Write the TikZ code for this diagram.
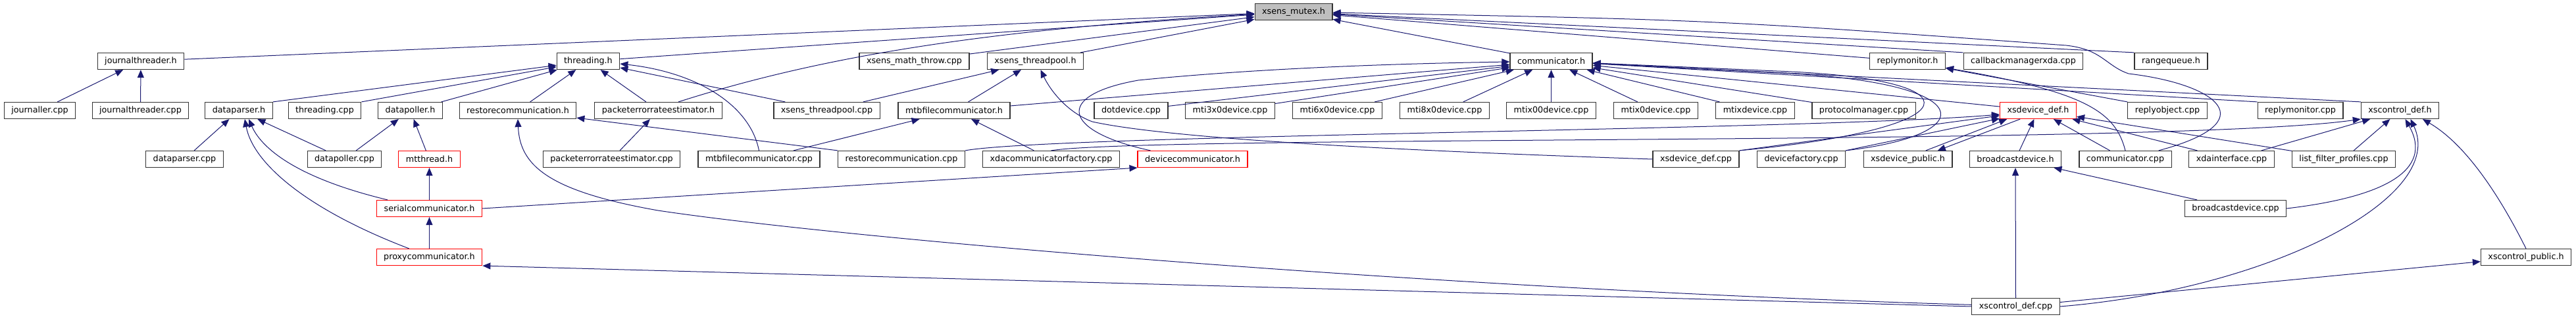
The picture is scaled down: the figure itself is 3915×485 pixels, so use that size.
\documentclass[tikz,border=0pt]{standalone}
\usepackage{fontspec}
\setmainfont{DejaVu Sans}
\usetikzlibrary{arrows.meta}
\definecolor{azulnoite}{RGB}{25,25,112}
\definecolor{cinza75}{RGB}{191,191,191}
\begin{document}
\begin{tikzpicture}[>={Triangle[length=9pt,width=7.5pt]},x=0.75pt,y=-0.75pt,
	caixa/.style={draw=black!80,line width=0.9pt,fill=white,minimum height=18.75pt,
		inner xsep=8.25pt,inner ysep=0pt,font=\fontsize{9.55pt}{11pt}\selectfont},
	trunc/.style={caixa,draw=red},
	dep/.style={->,draw=azulnoite,fill=none,line width=0.75pt}]

	% area do desenho
	\useasboundingbox (0,0) rectangle (3915,485);

	% arquivo central
	\node[caixa,fill=cinza75] (Mutex) at (1966,18) {xsens\_mutex.h};

	% linha 1
	\node[caixa] (JThrH) at (214,93) {journalthreader.h};
	\node[caixa] (ThrH) at (894,93) {threading.h};
	\node[caixa] (MathCpp) at (1389.5,93) {xsens\_math\_throw.cpp};
	\node[caixa] (PoolH) at (1573.5,93) {xsens\_threadpool.h};
	\node[caixa] (CommH) at (2357.5,93) {communicator.h};
	\node[caixa] (RMonH) at (2899,93) {replymonitor.h};
	\node[caixa] (CbCpp) at (3075,93) {callbackmanagerxda.cpp};
	\node[caixa] (RQH) at (3299.5,93) {rangequeue.h};

	% linha 2
	\node[caixa] (JLogCpp) at (60.5,168) {journaller.cpp};
	\node[caixa] (JThrCpp) at (213.5,168) {journalthreader.cpp};
	\node[caixa] (DParH) at (363,168) {dataparser.h};
	\node[caixa] (ThrCpp) at (493.5,168) {threading.cpp};
	\node[caixa] (DPolH) at (623.5,168) {datapoller.h};
	\node[caixa] (RestH) at (787,168) {restorecommunication.h};
	\node[caixa] (PerH) at (1000.5,168) {packeterrorrateestimator.h};
	\node[caixa] (PoolCpp) at (1256.5,168) {xsens\_threadpool.cpp};
	\node[caixa] (MtbH) at (1450,168) {mtbfilecommunicator.h};
	\node[caixa] (DotCpp) at (1719,168) {dotdevice.cpp};
	\node[caixa] (M3Cpp) at (1869.5,168) {mti3x0device.cpp};
	\node[caixa] (M6Cpp) at (2032.5,168) {mti6x0device.cpp};
	\node[caixa] (M8Cpp) at (2195.5,168) {mti8x0device.cpp};
	\node[caixa] (MX00Cpp) at (2357.5,168) {mtix00device.cpp};
	\node[caixa] (MX0Cpp) at (2516.5,168) {mtix0device.cpp};
	\node[caixa] (MXCpp) at (2667.5,168) {mtixdevice.cpp};
	\node[caixa] (ProtCpp) at (2832.5,168) {protocolmanager.cpp};
	\node[trunc] (DevDefH) at (3097.5,168) {xsdevice\_def.h};
	\node[caixa] (RObjCpp) at (3294,168) {replyobject.cpp};
	\node[caixa] (RMonCpp) at (3496,168) {replymonitor.cpp};
	\node[caixa] (CtlDefH) at (3647.5,168) {xscontrol\_def.h};

	% linha 3
	\node[caixa] (DParCpp) at (280.5,242) {dataparser.cpp};
	\node[caixa] (DPolCpp) at (523.5,242) {datapoller.cpp};
	\node[trunc] (MtThrH) at (652.5,242) {mtthread.h};
	\node[caixa] (PerCpp) at (929.5,242) {packeterrorrateestimator.cpp};
	\node[caixa] (MtbCpp) at (1153.5,242) {mtbfilecommunicator.cpp};
	\node[caixa] (RestCpp) at (1370,242) {restorecommunication.cpp};
	\node[caixa] (XdaFacCpp) at (1597.5,242) {xdacommunicatorfactory.cpp};
	\node[trunc] (DevCommH) at (1812.5,242) {devicecommunicator.h};
	\node[caixa] (DevDefCpp) at (2577.5,242) {xsdevice\_def.cpp};
	\node[caixa] (DevFacCpp) at (2737.5,242) {devicefactory.cpp};
	\node[caixa] (DevPubH) at (2899.5,242) {xsdevice\_public.h};
	\node[caixa] (BcH) at (3063,242) {broadcastdevice.h};
	\node[caixa] (CommCpp) at (3230,242) {communicator.cpp};
	\node[caixa] (XdaIfCpp) at (3391.5,242) {xdainterface.cpp};
	\node[caixa] (LfpCpp) at (3562,242) {list\_filter\_profiles.cpp};

	% linhas 4 a 6
	\node[trunc] (SerH) at (652.5,317) {serialcommunicator.h};
	\node[caixa] (BcCpp) at (3397.5,317) {broadcastdevice.cpp};
	\node[trunc] (ProxH) at (652.5,391) {proxycommunicator.h};
	\node[caixa] (CtlPubH) at (3839,391) {xscontrol\_public.h};
	\node[caixa] (CtlDefCpp) at (3063.5,466) {xscontrol\_def.cpp};

	% journalthreader.h
	\draw[dep] (JLogCpp) -- (JThrH);
	\draw[dep] (JThrCpp) -- (JThrH);

	% xsens_mutex.h
	\draw[dep] (JThrH) -- (Mutex);
	\draw[dep] (ThrH) -- (Mutex);
	\draw[dep] (MathCpp) -- (Mutex);
	\draw[dep] (PoolH) -- (Mutex);
	\draw[dep] ([xshift=-50pt]PerH.north east) .. controls (1250,85) and (1500,45) .. (Mutex);
	\draw[dep] (CommH) -- (Mutex);
	\draw[dep] (RMonH) -- (Mutex);
	\draw[dep] (CbCpp.north west) -- (Mutex);
	\draw[dep] (RQH.north west) -- (Mutex);
	\draw[dep] ([xshift=-15pt]CommCpp.north east) .. controls (3445,185) and (3370,128) .. (3235,112)
		.. controls (3200,100) and (3195,75) .. (3140,69) .. controls (2600,30) .. (Mutex);

	% threading.h
	\draw[dep] (DParH.north east) -- (ThrH);
	\draw[dep] (ThrCpp.north east) -- (ThrH);
	\draw[dep] (DPolH) -- (ThrH);
	\draw[dep] (RestH) -- (ThrH);
	\draw[dep] (PerH) -- (ThrH);
	\draw[dep] (MtbCpp.north) .. controls (1140,160) and (1060,110) .. ([yshift=-3pt]ThrH.east);
	\draw[dep] (PoolCpp) -- (ThrH);

	% xsens_threadpool.h
	\draw[dep] (PoolCpp) -- (PoolH);
	\draw[dep] (MtbH) -- (PoolH);
	\draw[dep] (DevDefCpp.west) .. controls (2000,225) and (1750,205) .. (1660,185)
		.. controls (1620,170) and (1595,135) .. ([xshift=6pt]PoolH.south);

	% communicator.h
	\draw[dep] ([xshift=15pt]DevCommH.north west) .. controls (1615,200) and (1600,145) .. (1730,122)
		.. controls (1900,105) and (2100,97) .. (CommH);
	\draw[dep] (MtbH) -- (CommH);
	\draw[dep] (DotCpp) -- (CommH);
	\draw[dep] (M3Cpp) -- (CommH);
	\draw[dep] (M6Cpp) -- (CommH);
	\draw[dep] (M8Cpp) -- (CommH);
	\draw[dep] (MX00Cpp) -- (CommH);
	\draw[dep] (MX0Cpp) -- (CommH);
	\draw[dep] (MXCpp) -- (CommH);
	\draw[dep] (ProtCpp) -- (CommH);
	\draw[dep] (DevDefH) -- (CommH);
	\draw[dep] (RMonCpp.north west) -- (CommH);
	\draw[dep] (CtlDefH.north west) -- (CommH);
	\draw[dep] (DevDefCpp.north east) .. controls (3000,195) and (3015,120) .. (2700,108) -- (CommH);
	\draw[dep] (DevFacCpp.north east) .. controls (3012,205) and (3012,125) .. (2705,111) -- (CommH);

	% replymonitor.h
	\draw[dep] (RObjCpp.north west) -- (RMonH);
	\draw[dep] (CommCpp.north) .. controls (3215,170) and (3170,140) .. (RMonH);

	% dataparser.h e datapoller.h
	\draw[dep] (DParCpp) -- (DParH);
	\draw[dep] (DPolCpp) -- (DParH);
	\draw[dep] ([xshift=12.75pt]SerH.north west) .. controls (440,268) and (395,220) .. ([xshift=11.25pt]DParH.south);
	\draw[dep] ([xshift=37.5pt]ProxH.north west) .. controls (470,320) and (385,250) .. ([xshift=6.75pt]DParH.south);
	\draw[dep] (DPolCpp) -- (DPolH);
	\draw[dep] (MtThrH) -- (DPolH);
	\draw[dep] (SerH) -- (MtThrH);
	\draw[dep] (ProxH) -- (SerH);
	\draw[dep] (SerH.east) -- (DevCommH.south west);

	% packeterrorrateestimator.h e mtbfilecommunicator.h
	\draw[dep] (PerCpp) -- (PerH);
	\draw[dep] (MtbCpp) -- (MtbH);
	\draw[dep] (XdaFacCpp) -- (MtbH);

	% restorecommunication.h
	\draw[dep] (RestCpp.north west) -- (RestH);
	\draw[dep] ([yshift=2pt]CtlDefCpp.west) .. controls (2200,440) and (1300,365) .. (1000,320)
		.. controls (830,290) and (790,250) .. (RestH.south);

	% xsdevice_def.h
	\draw[dep] (RestCpp.north east) .. controls (1600,205) and (2750,198) .. ([yshift=-4.5pt]DevDefH.west);
	\draw[dep] (DevDefCpp.north east) -- (DevDefH);
	\draw[dep] (DevFacCpp.north east) -- (DevDefH);
	\draw[dep] ([xshift=20.5pt]DevPubH.north) -- ([xshift=-35.5pt]DevDefH.south);
	\draw[dep] ([xshift=-20.5pt]DevDefH.south) -- ([xshift=34pt]DevPubH.north);
	\draw[dep] (BcH) -- (DevDefH);
	\draw[dep] (CommCpp) -- (DevDefH);
	\draw[dep] (XdaIfCpp) -- (DevDefH);
	\draw[dep] (LfpCpp) -- (DevDefH);

	% xscontrol_def.h
	\draw[dep] (XdaFacCpp.north) .. controls (1750,205) and (3300,222) .. (CtlDefH.south west);
	\draw[dep] (XdaIfCpp) -- (CtlDefH);
	\draw[dep] (LfpCpp) -- (CtlDefH);
	\draw[dep] (BcCpp.east) .. controls (3620,300) and (3700,260) .. ([xshift=6pt]CtlDefH.south);
	\draw[dep] (CtlDefCpp.east) .. controls (3450,440) and (3720,300) .. ([xshift=12pt]CtlDefH.south);
	\draw[dep] (CtlPubH.north) .. controls (3790,280) and (3740,215) .. ([xshift=-19pt]CtlDefH.south east);

	% broadcastdevice.h, xscontrol_public.h e proxycommunicator.h
	\draw[dep] (BcCpp) -- (BcH);
	\draw[dep] (CtlDefCpp) -- (BcH);
	\draw[dep] (CtlDefCpp) -- (CtlPubH);
	\draw[dep] (CtlDefCpp.west) -- (ProxH.south east);

\end{tikzpicture}
\end{document}
